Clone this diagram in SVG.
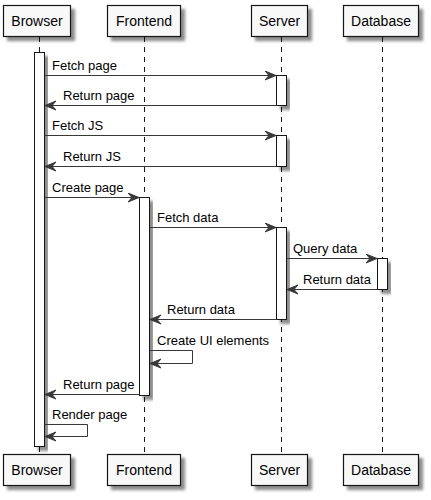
<svg xmlns="http://www.w3.org/2000/svg" width="431" height="500" viewBox="0 0 431 500">
<defs>
<filter id="sh" x="-20%" y="-20%" width="150%" height="160%">
<feGaussianBlur in="SourceAlpha" stdDeviation="1.8"/>
<feOffset dx="4" dy="4" result="b"/>
<feComponentTransfer><feFuncA type="linear" slope="0.45"/></feComponentTransfer>
<feMerge><feMergeNode/><feMergeNode in="SourceGraphic"/></feMerge>
</filter>
<marker id="ah" markerWidth="14" markerHeight="12" refX="11" refY="5" orient="auto" markerUnits="userSpaceOnUse">
<polygon points="0,0.5 11,5 0,9.5 4,5" fill="#383838" stroke="#383838" stroke-width="1" stroke-linejoin="miter"/>
</marker>
</defs>
<style>
.box{fill:#F8F8F8;stroke:#181818;stroke-width:1.2;filter:url(#sh)}
.act{fill:#FFFFFF;stroke:#181818;stroke-width:1;filter:url(#sh)}
.life{stroke:#181818;stroke-width:1;stroke-dasharray:5,5;fill:none}
.msg{stroke:#383838;stroke-width:1;fill:none;marker-end:url(#ah)}
.pt{font-family:"Liberation Sans",Arial,sans-serif;font-size:14px;fill:#000;text-anchor:middle}
.mt{font-family:"Liberation Sans",Arial,sans-serif;font-size:13px;fill:#000}
</style>
<rect width="431" height="500" fill="#FFFFFF"/>
<g id="lifelines">
<line class="life" x1="39.5" y1="37" x2="39.5" y2="454"/>
<line class="life" x1="144.5" y1="37" x2="144.5" y2="454"/>
<line class="life" x1="281.5" y1="37" x2="281.5" y2="454"/>
<line class="life" x1="382.5" y1="37" x2="382.5" y2="454"/>
</g>
<g id="Browser">
<rect class="box" x="3.5" y="5.5" width="67" height="31"/>
<text class="pt" x="37" y="26">Browser</text>
<rect class="box" x="3.5" y="454.5" width="67" height="31"/>
<text class="pt" x="37" y="475">Browser</text>
<rect class="act" x="34.5" y="52.5" width="10" height="394"/>
</g>
<g id="Frontend">
<rect class="box" x="107.5" y="5.5" width="73" height="31"/>
<text class="pt" x="144" y="26">Frontend</text>
<rect class="box" x="107.5" y="454.5" width="73" height="31"/>
<text class="pt" x="144" y="475">Frontend</text>
<rect class="act" x="139.5" y="197.5" width="10" height="198"/>
</g>
<g id="Server">
<rect class="box" x="251.5" y="5.5" width="56" height="31"/>
<text class="pt" x="279.5" y="26">Server</text>
<rect class="box" x="251.5" y="454.5" width="56" height="31"/>
<text class="pt" x="279.5" y="475">Server</text>
<rect class="act" x="276.5" y="75.5" width="10" height="30"/>
<rect class="act" x="276.5" y="135.5" width="10" height="31"/>
<rect class="act" x="276.5" y="227.5" width="10" height="92"/>
</g>
<g id="Database">
<rect class="box" x="343.5" y="5.5" width="75" height="31"/>
<text class="pt" x="381" y="26">Database</text>
<rect class="box" x="343.5" y="454.5" width="75" height="31"/>
<text class="pt" x="381" y="475">Database</text>
<rect class="act" x="377.5" y="258.5" width="10" height="31"/>
</g>
<g id="connectors">
<line class="msg" x1="44.5" y1="75.5" x2="276" y2="75.5"/>
<text class="mt" x="52" y="70">Fetch page</text>
<line class="msg" x1="276.5" y1="105.5" x2="45" y2="105.5"/>
<text class="mt" x="63" y="100">Return page</text>
<line class="msg" x1="44.5" y1="135.5" x2="276" y2="135.5"/>
<text class="mt" x="52" y="130">Fetch JS</text>
<line class="msg" x1="276.5" y1="166.5" x2="45" y2="166.5"/>
<text class="mt" x="63" y="161">Return JS</text>
<line class="msg" x1="44.5" y1="197.5" x2="139" y2="197.5"/>
<text class="mt" x="52" y="192">Create page</text>
<line class="msg" x1="149.5" y1="227.5" x2="276" y2="227.5"/>
<text class="mt" x="157" y="222">Fetch data</text>
<line class="msg" x1="286.5" y1="258.5" x2="377" y2="258.5"/>
<text class="mt" x="293" y="253">Query data</text>
<line class="msg" x1="377.5" y1="289.5" x2="287" y2="289.5"/>
<text class="mt" x="303" y="284">Return data</text>
<line class="msg" x1="276.5" y1="319.5" x2="150" y2="319.5"/>
<text class="mt" x="167" y="314">Return data</text>
<polyline class="msg" points="149.5,350.5 192.5,350.5 192.5,363.5 150,363.5"/>
<text class="mt" x="157" y="345">Create UI elements</text>
<line class="msg" x1="139.5" y1="394.5" x2="45" y2="394.5"/>
<text class="mt" x="63" y="389">Return page</text>
<polyline class="msg" points="44.5,424.5 87.5,424.5 87.5,436.5 45,436.5"/>
<text class="mt" x="52" y="419">Render page</text>
</g>
</svg>
